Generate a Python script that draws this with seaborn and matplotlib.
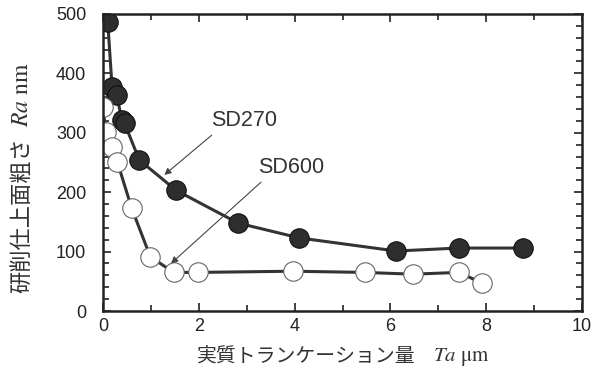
import pandas as pd
import seaborn as sns
import matplotlib.pyplot as plt
from matplotlib.ticker import MultipleLocator

# SD270 (filled circles)
sd270_x = [0.1, 0.19, 0.29, 0.39, 0.45, 0.76, 1.53, 2.82, 4.1, 6.12, 7.42, 8.76]
sd270_y = [487, 377, 364, 322, 316, 254, 203, 148, 123, 101, 106, 106]

# SD600 (open circles)
sd600_x = [0.0, 0.06, 0.19, 0.3, 0.6, 0.99, 1.48, 1.98, 3.96, 5.46, 6.47, 7.42, 7.92]
sd600_y = [343, 301, 276, 251, 173, 91, 65, 65, 67, 65, 62, 65, 47]

xticks = [0, 2, 4, 6, 8, 10]
yticks = [0, 100, 200, 300, 400, 500]

sns.set_style("ticks")
plt.rcParams['font.family'] = ['Liberation Sans', 'Noto Sans CJK JP', 'DejaVu Sans']
plt.rcParams['mathtext.fontset'] = 'stix'

df270 = pd.DataFrame({"x": sd270_x, "y": sd270_y})
df600 = pd.DataFrame({"x": sd600_x, "y": sd600_y})

fig, ax = plt.subplots(figsize=(6.02, 3.77), dpi=100)
fig.subplots_adjust(left=0.171, right=0.967, top=0.963, bottom=0.175)

sns.lineplot(data=df270, x="x", y="y", sort=False, ax=ax, color="#333333", lw=2.2,
             marker="o", markersize=14, markerfacecolor="#2e2e2e",
             markeredgecolor="#111111", markeredgewidth=0.8)
sns.lineplot(data=df600, x="x", y="y", sort=False, ax=ax, color="#333333", lw=2.2,
             marker="o", markersize=14, markerfacecolor="white",
             markeredgecolor="#666666", markeredgewidth=0.8)

ax.set_xlim(0, 10)
ax.set_ylim(0, 500)
ax.set_xticks(xticks)
ax.set_yticks(yticks)
ax.xaxis.set_minor_locator(MultipleLocator(1))
ax.yaxis.set_minor_locator(MultipleLocator(20))
ax.tick_params(which="both", direction="in", top=True, right=True, width=1.2,
               labelsize=13, colors="#222222")
ax.tick_params(which="major", length=6)
ax.tick_params(which="minor", length=4)
ax.tick_params(axis="x", pad=5)
ax.tick_params(axis="y", pad=12)
for s in ax.spines.values():
    s.set_linewidth(1.8)
    s.set_color("#222222")
ax.set_xlabel("")
ax.set_ylabel("")

# axis labels: japanese part + italic serif symbol part
W, H = 602, 377
fig.text(197 / W, 1 - 357 / H, "実質トランケーション量", fontsize=14.3,
         family=['Noto Sans CJK JP'], ha="left", va="center", color="#333333")
fig.text(433 / W, 1 - 357 / H, "$\\mathit{Ta}\\ \\mathrm{μm}$", fontsize=15,
         ha="left", va="center", color="#333333")
fig.text(22 / W, 1 - 293 / H, "研削仕上面粗さ", fontsize=16, rotation=90,
         family=['Noto Sans CJK JP'], ha="center", va="bottom", color="#333333")
fig.text(22 / W, 1 - 127 / H, "$\\mathit{Ra}\\ \\mathrm{nm}$", fontsize=17, rotation=90,
         ha="center", va="bottom", color="#333333")

arrow = dict(arrowstyle="-|>", color="#444444", lw=0.8, mutation_scale=10, shrinkA=0, shrinkB=0)
ax.annotate("", xy=(1.28, 229), xytext=(2.27, 296), arrowprops=arrow)
ax.annotate("", xy=(1.42, 80), xytext=(3.3, 217), arrowprops=arrow)
ax.text(2.95, 321, "SD270", fontsize=15.5, ha="center", va="center", color="#333333")
ax.text(3.93, 242, "SD600", fontsize=15.5, ha="center", va="center", color="#333333")

plt.savefig("out.png", dpi=100)
